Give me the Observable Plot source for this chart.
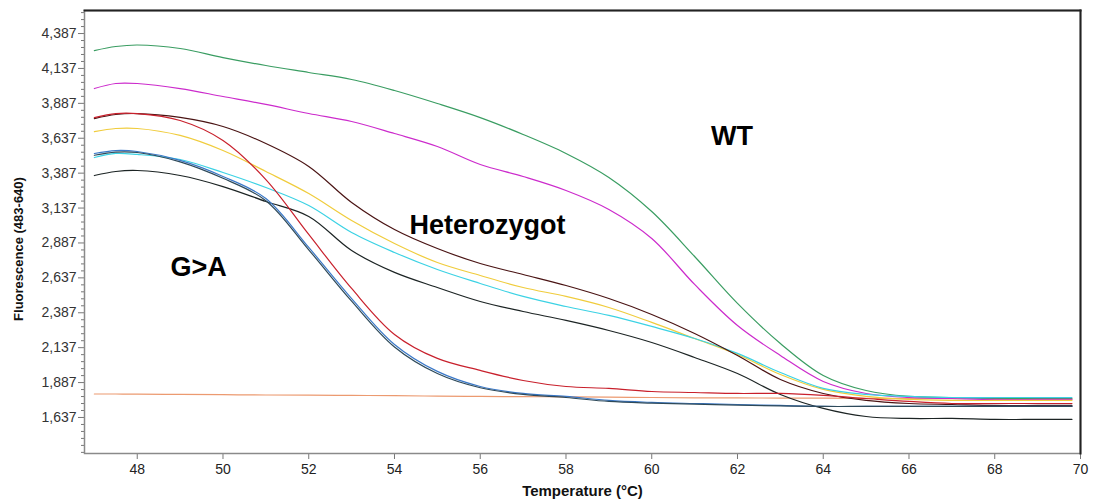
<!DOCTYPE html>
<html><head><meta charset="utf-8">
<script src="https://cdn.jsdelivr.net/npm/d3@7"></script>
<script src="https://cdn.jsdelivr.net/npm/@observablehq/plot@0.6"></script>
<style>body{margin:0;background:#fff;} svg{display:block}</style>
</head><body><div id="chart"></div>
<script>
// Temperature grid (°C)
const temps = [47, 47.5, 48, 49, 50, 51, 52, 53, 54, 55, 56, 57, 58, 59, 60, 61, 62, 63, 64, 65, 66, 67, 68, 69, 69.8];

// Fluorescence (483-640) per sample
const wtGreen   = [4265, 4294, 4305, 4280, 4215, 4158, 4108, 4058, 3979, 3886, 3785, 3664, 3528, 3356, 3112, 2790, 2454, 2167, 1938, 1830, 1788, 1780, 1773, 1773, 1773];
const wtMagenta = [3993, 4029, 4029, 3993, 3936, 3879, 3814, 3757, 3671, 3578, 3449, 3363, 3263, 3127, 2919, 2590, 2296, 2081, 1895, 1809, 1780, 1773, 1766, 1766, 1766];
const hetBrown  = [3778, 3807, 3814, 3786, 3721, 3599, 3435, 3177, 2983, 2847, 2740, 2661, 2582, 2489, 2375, 2239, 2081, 1909, 1809, 1759, 1737, 1730, 1723, 1723, 1723];
const hetYellow = [3685, 3707, 3707, 3657, 3549, 3399, 3241, 3048, 2883, 2747, 2654, 2568, 2504, 2425, 2318, 2203, 2088, 1945, 1838, 1788, 1766, 1759, 1759, 1759, 1759];
const hetCyan   = [3499, 3528, 3521, 3485, 3392, 3284, 3155, 2962, 2819, 2697, 2597, 2504, 2432, 2368, 2289, 2203, 2096, 1959, 1845, 1802, 1788, 1780, 1780, 1780, 1780];
const hetBlack  = [3370, 3399, 3406, 3370, 3291, 3184, 3077, 2833, 2676, 2568, 2468, 2396, 2332, 2260, 2174, 2067, 1952, 1802, 1702, 1644, 1630, 1630, 1623, 1623, 1623];
const gaRed     = [3785, 3814, 3814, 3764, 3621, 3341, 2948, 2561, 2232, 2060, 1974, 1902, 1859, 1845, 1823, 1816, 1809, 1809, 1795, 1773, 1752, 1737, 1737, 1737, 1737];
const gaBlue    = [3528, 3549, 3542, 3478, 3363, 3205, 2855, 2489, 2160, 1967, 1859, 1809, 1788, 1759, 1745, 1737, 1730, 1723, 1716, 1716, 1716, 1716, 1716, 1716, 1716];
const gaSlate   = [3515, 3538, 3535, 3468, 3350, 3190, 2838, 2470, 2142, 1952, 1850, 1802, 1780, 1752, 1740, 1732, 1726, 1720, 1716, 1716, 1716, 1716, 1716, 1716, 1716];
const ntcOrange = [1805, 1805, 1804, 1802, 1800, 1798, 1797, 1795, 1793, 1790, 1788, 1786, 1785, 1783, 1780, 1778, 1777, 1776, 1775, 1774, 1773, 1772, 1771, 1770, 1770];

const seriesNames  = ["ntcOrange", "wtGreen", "wtMagenta", "hetYellow", "hetCyan", "hetBrown", "hetBlack", "gaBlue", "gaSlate", "gaRed"];
const seriesValues = [ntcOrange, wtGreen, wtMagenta, hetYellow, hetCyan, hetBrown, hetBlack, gaBlue, gaSlate, gaRed];
const seriesColors = ["#ec9a70", "#3a9d62", "#cc2bcc", "#f0cc3c", "#3cd2e4", "#4a1414", "#1c2424", "#3a78c8", "#2e4a5a", "#c8202c"];

// Axis ticks
const yTicks = [1637, 1887, 2137, 2387, 2637, 2887, 3137, 3387, 3637, 3887, 4137, 4387];
const yMinorTicks = d3.range(1387, 4550, 50).filter(v => !yTicks.includes(v));
const xTicks = [48, 50, 52, 54, 56, 58, 60, 62, 64, 66, 68, 70];

// Annotations
const labels = ["G>A", "Heterozygot", "WT"];
const labelTemps = [49.43, 56.17, 61.87];
const labelValues = [2715, 3012, 3653];

const rows = seriesNames.flatMap((name, s) => temps.map((t, i) => ({series: name, t, f: seriesValues[s][i]})));
const fmt = d3.format(",");

const chart = Plot.plot({
  width: 1100,
  height: 504,
  marginLeft: 84,
  marginRight: 20,
  marginTop: 10,
  marginBottom: 51,
  style: {fontFamily: "'Liberation Sans', Arial, sans-serif", background: "#fff"},
  x: {domain: [46.77, 70]},
  y: {domain: [1379, 4552]},
  color: {domain: seriesNames, range: seriesColors},
  marks: [
    Plot.axisY({ticks: yMinorTicks, tickSize: 3, text: null, label: null, stroke: "#777"}),
    Plot.axisY({ticks: yTicks, tickSize: 6, tickPadding: 2, tickFormat: fmt, label: null, fontSize: 14, color: "#333", stroke: "#777"}),
    Plot.axisX({ticks: xTicks, tickSize: 6, tickPadding: 5, label: null, fontSize: 14, color: "#222", stroke: "#777"}),
    Plot.line(rows, {x: "t", y: "f", z: "series", stroke: "series", strokeWidth: 1.2, curve: "catmull-rom"}),
    Plot.frame({stroke: "#8a8a8a", strokeWidth: 1.5}),
    Plot.frame({anchor: "top", stroke: "#222", strokeWidth: 2}),
    Plot.frame({anchor: "right", stroke: "#222", strokeWidth: 2}),
    Plot.text(labels, {x: (d, i) => labelTemps[i], y: (d, i) => labelValues[i], text: d => d, fontSize: 27, fontWeight: "bold", fill: "#000"}),
    Plot.text(["Temperature (°C)"], {frameAnchor: "bottom", dy: 42, fontSize: 15, fontWeight: "bold", fill: "#111", letterSpacing: 1}),
    Plot.text(["Fluorescence (483-640)"], {frameAnchor: "left", textAnchor: "middle", dx: -66, dy: 17, rotate: -90, fontSize: 13, fontWeight: "bold", fill: "#111"})
  ]
});
document.getElementById("chart").append(chart);
</script>
</body></html>
